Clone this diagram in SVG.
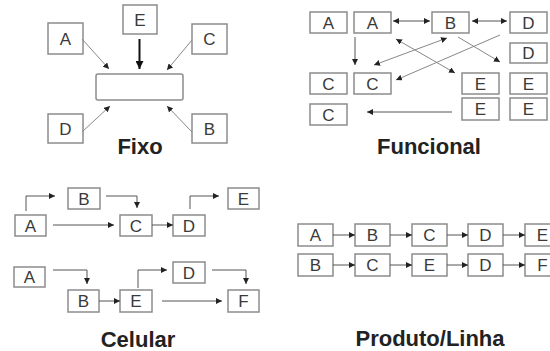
<svg xmlns="http://www.w3.org/2000/svg" width="550" height="351" viewBox="0 0 550 351">
  <style>
    .box { fill: #fff; stroke: #8c8c8c; stroke-width: 1.5; }
    .lbl { font-family: "Liberation Sans", Arial, sans-serif; font-size: 17px; fill: #3a3a3a; text-anchor: middle; }
    .title { font-family: "Liberation Sans", Arial, sans-serif; font-size: 22px; font-weight: bold; fill: #222; text-anchor: middle; }
    .ln { fill: none; stroke: #555; stroke-width: 1; }
    .lg { fill: none; stroke: #888; stroke-width: 1; }
    .hd { marker-end: url(#ah); }
    .hh { marker-start: url(#ah); marker-end: url(#ah); }
  </style>
  <defs>
    <marker id="ah" viewBox="0 0 6 6" refX="6" refY="3" markerWidth="6" markerHeight="6" markerUnits="userSpaceOnUse" orient="auto-start-reverse">
      <path d="M0,0 L6,3 L0,6 z" fill="#222"/>
    </marker>
    <marker id="ahb" viewBox="0 0 8 8" refX="8" refY="4" markerWidth="8" markerHeight="8" markerUnits="userSpaceOnUse" orient="auto">
      <path d="M0,0 L8,4 L0,8 z" fill="#111"/>
    </marker>
  </defs>

  <rect width="550" height="351" fill="#fff"/>

  <!-- Fixo: fixed-position layout -->
  <g id="fixo-center"><rect class="box" x="96" y="74" width="87" height="26" rx="2"/></g>
  <g id="fixo-A"><rect class="box" x="48" y="23" width="35" height="31"/><text class="lbl" x="65.5" y="45">A</text></g>
  <g id="fixo-E"><rect class="box" x="123" y="5" width="34" height="29"/><text class="lbl" x="140" y="26">E</text></g>
  <g id="fixo-C"><rect class="box" x="192" y="24" width="35" height="30"/><text class="lbl" x="209.5" y="45">C</text></g>
  <g id="fixo-D"><rect class="box" x="48" y="114" width="35" height="29"/><text class="lbl" x="65.5" y="135">D</text></g>
  <g id="fixo-B"><rect class="box" x="192" y="114" width="35" height="29"/><text class="lbl" x="209.5" y="135">B</text></g>
  <text class="title" x="140" y="154">Fixo</text>

  <!-- Funcional: process layout -->
  <g id="fun-A1"><rect class="box" x="310" y="12" width="37" height="21"/><text class="lbl" x="328.5" y="29">A</text></g>
  <g id="fun-A2"><rect class="box" x="354" y="12" width="37" height="21"/><text class="lbl" x="372.5" y="29">A</text></g>
  <g id="fun-B"><rect class="box" x="432" y="12" width="37" height="21"/><text class="lbl" x="450.5" y="29">B</text></g>
  <g id="fun-D1"><rect class="box" x="510" y="12" width="37" height="21"/><text class="lbl" x="528.5" y="29">D</text></g>
  <g id="fun-D2"><rect class="box" x="510" y="43" width="37" height="20"/><text class="lbl" x="528.5" y="59">D</text></g>
  <g id="fun-C1"><rect class="box" x="310" y="73" width="37" height="21"/><text class="lbl" x="328.5" y="90">C</text></g>
  <g id="fun-C2"><rect class="box" x="354" y="73" width="37" height="21"/><text class="lbl" x="372.5" y="90">C</text></g>
  <g id="fun-E1"><rect class="box" x="462" y="73" width="37" height="21"/><text class="lbl" x="480.5" y="90">E</text></g>
  <g id="fun-E2"><rect class="box" x="510" y="73" width="37" height="21"/><text class="lbl" x="528.5" y="90">E</text></g>
  <g id="fun-E3"><rect class="box" x="462" y="98" width="37" height="22"/><text class="lbl" x="480.5" y="115">E</text></g>
  <g id="fun-E4"><rect class="box" x="510" y="98" width="37" height="22"/><text class="lbl" x="528.5" y="115">E</text></g>
  <g id="fun-C3"><rect class="box" x="310" y="104" width="37" height="21"/><text class="lbl" x="328.5" y="121">C</text></g>
  <text class="title" x="429" y="154">Funcional</text>

  <!-- Celular: cell layout -->
  <g id="cel1-A"><rect class="box" x="15" y="215" width="31" height="21"/><text class="lbl" x="30.5" y="232">A</text></g>
  <g id="cel1-B"><rect class="box" x="68" y="188" width="32" height="21"/><text class="lbl" x="84" y="205">B</text></g>
  <g id="cel1-C"><rect class="box" x="120" y="215" width="32" height="21"/><text class="lbl" x="136" y="232">C</text></g>
  <g id="cel1-D"><rect class="box" x="173" y="215" width="32" height="21"/><text class="lbl" x="189" y="232">D</text></g>
  <g id="cel1-E"><rect class="box" x="228" y="188" width="31" height="21"/><text class="lbl" x="243.5" y="205">E</text></g>
  <g id="cel2-A"><rect class="box" x="14" y="267" width="31" height="20"/><text class="lbl" x="29.5" y="283">A</text></g>
  <g id="cel2-B"><rect class="box" x="68" y="290" width="31" height="22"/><text class="lbl" x="83.5" y="307">B</text></g>
  <g id="cel2-E"><rect class="box" x="120" y="290" width="32" height="22"/><text class="lbl" x="136" y="307">E</text></g>
  <g id="cel2-D"><rect class="box" x="173" y="262" width="32" height="21"/><text class="lbl" x="189" y="279">D</text></g>
  <g id="cel2-F"><rect class="box" x="228" y="290" width="31" height="22"/><text class="lbl" x="243.5" y="307">F</text></g>
  <text class="title" x="138" y="347">Celular</text>

  <!-- Produto/Linha: product line layout -->
  <g id="lin1-A"><rect class="box" x="298" y="224" width="35" height="22"/><text class="lbl" x="315.5" y="241">A</text></g>
  <g id="lin1-B"><rect class="box" x="355" y="224" width="35" height="22"/><text class="lbl" x="372.5" y="241">B</text></g>
  <g id="lin1-C"><rect class="box" x="412" y="224" width="35" height="22"/><text class="lbl" x="429.5" y="241">C</text></g>
  <g id="lin1-D"><rect class="box" x="468" y="224" width="35" height="22"/><text class="lbl" x="485.5" y="241">D</text></g>
  <g id="lin1-E"><rect class="box" x="525" y="224" width="35" height="22"/><text class="lbl" x="542.5" y="241">E</text></g>
  <g id="lin2-B"><rect class="box" x="298" y="254" width="35" height="22"/><text class="lbl" x="315.5" y="271">B</text></g>
  <g id="lin2-C"><rect class="box" x="355" y="254" width="35" height="22"/><text class="lbl" x="372.5" y="271">C</text></g>
  <g id="lin2-E"><rect class="box" x="412" y="254" width="35" height="22"/><text class="lbl" x="429.5" y="271">E</text></g>
  <g id="lin2-D"><rect class="box" x="468" y="254" width="35" height="22"/><text class="lbl" x="485.5" y="271">D</text></g>
  <g id="lin2-F"><rect class="box" x="525" y="254" width="35" height="22"/><text class="lbl" x="542.5" y="271">F</text></g>
  <text class="title" x="430" y="346">Produto/Linha</text>

  <!-- Connectors -->
  <g id="connectors">
    <!-- Fixo -->
    <path class="lg hd" d="M82,39 L109,69"/>
    <path class="lg hd" d="M192,40 L167,70"/>
    <path class="lg hd" d="M82,132 L110,106"/>
    <path class="lg hd" d="M192,132 L167,106"/>
    <path d="M139.5,39 L139.5,69" fill="none" stroke="#111" stroke-width="2" marker-end="url(#ahb)"/>

    <!-- Funcional -->
    <path class="ln hh" d="M393,21 L430,21"/>
    <path class="ln hh" d="M472,21 L507,21"/>
    <path class="ln hd" d="M355,37 L355,65"/>
    <path class="lg hh" d="M374,65 L447,38"/>
    <path class="lg hd" d="M500,35 L396,80"/>
    <path class="lg hh" d="M396,39 L455,73"/>
    <path class="lg hd" d="M458,37 L500,62"/>
    <path class="ln hd" d="M452,112 L367,112"/>

    <!-- Celular, row 1 -->
    <path class="ln hd" d="M26,211 L26,196 L55,196"/>
    <path class="ln hd" d="M106,196 L137,196 L137,208"/>
    <path class="ln hd" d="M53,225 L114,225"/>
    <path class="ln hd" d="M152,225 L173,225"/>
    <path class="ln hd" d="M190,209 L190,196 L219,196"/>
    <!-- Celular, row 2 -->
    <path class="ln hd" d="M53,270 L87,270 L87,284"/>
    <path class="ln hd" d="M99,301 L120,301"/>
    <path class="ln hd" d="M138,288 L138,270 L167,270"/>
    <path class="ln hd" d="M212,270 L246,270 L246,284"/>
    <path class="ln hd" d="M162,301 L222,301"/>

    <!-- Produto/Linha -->
    <path class="ln hd" d="M333,235 L355,235"/>
    <path class="ln hd" d="M390,235 L412,235"/>
    <path class="ln hd" d="M447,235 L468,235"/>
    <path class="ln hd" d="M503,235 L525,235"/>
    <path class="ln hd" d="M333,265 L355,265"/>
    <path class="ln hd" d="M390,265 L412,265"/>
    <path class="ln hd" d="M447,265 L468,265"/>
    <path class="ln hd" d="M503,265 L525,265"/>
  </g>
</svg>
